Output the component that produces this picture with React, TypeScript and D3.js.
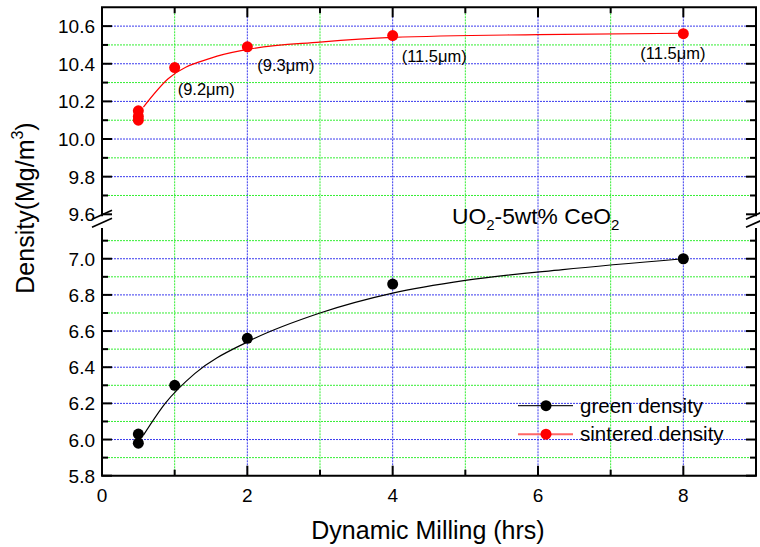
import { useEffect, useRef } from 'react';
import * as d3 from 'd3';

// measured points
const greenHrs = [0.5, 0.5, 1, 2, 4, 8];
const greenDensity = [6.03, 5.98, 6.3, 6.56, 6.86, 7.0];
const sinteredHrs = [0.5, 0.5, 0.5, 1, 2, 4, 8];
const sinteredDensity = [10.15, 10.12, 10.1, 10.38, 10.49, 10.55, 10.56];

// fitted curves
const greenFitHrs = [0.57, 0.87, 1.28, 2, 3, 4, 5, 6.34, 8];
const greenFit = [6.024, 6.2, 6.366, 6.54, 6.7, 6.81, 6.88, 6.94, 7.0];
const sinteredFitHrs = [0.57, 0.91, 1.5, 2, 3, 4, 6, 8];
const sinteredFit = [10.17, 10.32, 10.43, 10.476, 10.515, 10.54, 10.555, 10.562];

// grain size labels
const grainHrs = [1, 2, 4, 8];
const grainLabels = ['(9.2\u03bcm)', '(9.3\u03bcm)', '(11.5\u03bcm)', '(11.5\u03bcm)'];
const grainDx = [3, 10, 9, -43];
const grainDy = [27, 24, 26, 25];

const xTicks = [0, 2, 4, 6, 8];
const legendNames = ['green density', 'sintered density'];

const FONT = '"Liberation Sans", Arial, sans-serif';

const App = () => {
    const svgRef = useRef<SVGSVGElement>(null);

    useEffect(() => {
        const svg = d3.select(svgRef.current);
        svg.selectAll('*').remove();

        const left = 102, right = 756, top = 7.3, bottom = 475.7;
        const breakTop = 214.3, breakBottom = 228;

        const x = d3.scaleLinear().domain([0, 9]).range([left, right]);
        const yLow = d3.scaleLinear().domain([5.8, 7.17]).range([bottom, breakBottom]);
        const yUp = d3.scaleLinear().domain([9.6, 10.7]).range([breakTop, top]);
        const y = (v: number) => (v > 8.5 ? yUp(v) : yLow(v));

        const blue = '#3a3aee';
        const green = '#33ee33';

        // grid
        const grid = svg.append('g');
        d3.range(1, 9).forEach((t) => {
            grid.append('line').attr('x1', x(t)).attr('x2', x(t)).attr('y1', top).attr('y2', bottom)
                .attr('stroke', t % 2 === 0 ? blue : green).attr('stroke-width', 1).attr('stroke-dasharray', '2,1');
        });
        const lowTenths = d3.range(59, 72);
        const upTenths = d3.range(97, 107);
        [...lowTenths, ...upTenths].forEach((t) => {
            grid.append('line').attr('x1', left).attr('x2', right).attr('y1', y(t / 10)).attr('y2', y(t / 10))
                .attr('stroke', t % 2 === 0 ? blue : green).attr('stroke-width', 1).attr('stroke-dasharray', '2,1');
        });

        // frame
        const frame = svg.append('g').attr('stroke', 'black').attr('stroke-width', 2).attr('fill', 'none');
        frame.append('line').attr('x1', left - 1).attr('x2', right + 1).attr('y1', top).attr('y2', top);
        frame.append('line').attr('x1', left - 1).attr('x2', right + 1).attr('y1', bottom).attr('y2', bottom);
        [left, right].forEach((ax) => {
            frame.append('line').attr('x1', ax).attr('x2', ax).attr('y1', top).attr('y2', breakTop + 2);
            frame.append('line').attr('x1', ax).attr('x2', ax).attr('y1', breakBottom).attr('y2', bottom);
            frame.append('line').attr('x1', ax - 10).attr('x2', ax + 10).attr('y1', breakTop + 5).attr('y2', breakTop - 4).attr('stroke-width', 1.6);
            frame.append('line').attr('x1', ax - 10).attr('x2', ax + 10).attr('y1', breakTop + 13).attr('y2', breakTop + 4).attr('stroke-width', 1.6);
        });

        // ticks
        const ticks = svg.append('g').attr('stroke', 'black').attr('stroke-width', 2);
        d3.range(0, 10).forEach((t) => {
            const len = t % 2 === 0 ? 10 : 6;
            ticks.append('line').attr('x1', x(t)).attr('x2', x(t)).attr('y1', bottom).attr('y2', bottom - len);
            ticks.append('line').attr('x1', x(t)).attr('x2', x(t)).attr('y1', top).attr('y2', top + len);
        });
        [...d3.range(58, 72), ...d3.range(96, 107)].forEach((t) => {
            const len = t % 2 === 0 ? 10 : 6;
            const yy = y(t / 10);
            ticks.append('line').attr('x1', left).attr('x2', left + len).attr('y1', yy).attr('y2', yy);
            ticks.append('line').attr('x1', right).attr('x2', right - len).attr('y1', yy).attr('y2', yy);
        });

        // tick labels
        const labels = svg.append('g').attr('font-family', FONT).attr('font-size', 19).attr('fill', 'black');
        xTicks.forEach((t) => {
            labels.append('text').attr('x', x(t)).attr('y', bottom + 26).attr('text-anchor', 'middle').text(t);
        });
        [...d3.range(58, 72, 2), ...d3.range(96, 107, 2)].forEach((t) => {
            labels.append('text').attr('x', left - 7).attr('y', y(t / 10) + 7).attr('text-anchor', 'end')
                .text(d3.format('.1f')(t / 10));
        });

        // titles
        svg.append('text').attr('x', (left + right) / 2 - 1).attr('y', 539).attr('text-anchor', 'middle')
            .attr('font-family', FONT).attr('font-size', 25).text('Dynamic Milling (hrs)');
        const yt = svg.append('text').attr('transform', 'translate(34, 208) rotate(-90)').attr('text-anchor', 'middle')
            .attr('font-family', FONT).attr('font-size', 25);
        yt.append('tspan').text('Density(Mg/m');
        yt.append('tspan').attr('font-size', 16).attr('dy', -11).text('3');
        yt.append('tspan').attr('dy', 11).text(')');

        // fitted curves
        const line = d3.line<[number, number]>().x((d) => x(d[0])).y((d) => y(d[1])).curve(d3.curveMonotoneX);
        svg.append('path').attr('d', line(d3.zip(greenFitHrs, greenFit) as [number, number][]))
            .attr('fill', 'none').attr('stroke', 'black').attr('stroke-width', 1.2);
        svg.append('path').attr('d', line(d3.zip(sinteredFitHrs, sinteredFit) as [number, number][]))
            .attr('fill', 'none').attr('stroke', 'red').attr('stroke-width', 1.2);

        // points
        svg.append('g').selectAll('circle').data(d3.zip(greenHrs, greenDensity)).enter().append('circle')
            .attr('cx', (d) => x(d[0])).attr('cy', (d) => y(d[1])).attr('r', 5.5).attr('fill', 'black');
        svg.append('g').selectAll('circle').data(d3.zip(sinteredHrs, sinteredDensity)).enter().append('circle')
            .attr('cx', (d) => x(d[0])).attr('cy', (d) => y(d[1])).attr('r', 5.5).attr('fill', 'red');

        // grain size annotations
        grainHrs.forEach((h, i) => {
            const v = sinteredDensity[sinteredHrs.indexOf(h)];
            svg.append('text').attr('x', x(h) + grainDx[i]).attr('y', y(v) + grainDy[i])
                .attr('font-family', FONT).attr('font-size', 16.5).text(grainLabels[i]);
        });

        // composition label
        const comp = svg.append('text').attr('x', 452).attr('y', 224).attr('font-family', FONT).attr('font-size', 22.8);
        comp.append('tspan').text('UO');
        comp.append('tspan').attr('font-size', 15).attr('dy', 6).text('2');
        comp.append('tspan').attr('dy', -6).text('-5wt% CeO');
        comp.append('tspan').attr('font-size', 15).attr('dy', 6).text('2');

        // legend
        const legendColors = ['black', 'red'];
        const legendLines = ['#222', '#ff6666'];
        legendNames.forEach((name, i) => {
            const ly = 405.7 + i * 28.5;
            const g = svg.append('g');
            g.append('line').attr('x1', 518).attr('x2', 573).attr('y1', ly).attr('y2', ly)
                .attr('stroke', legendLines[i]).attr('stroke-width', i === 0 ? 1.2 : 2);
            g.append('circle').attr('cx', 546).attr('cy', ly).attr('r', 5.5).attr('fill', legendColors[i]);
            g.append('text').attr('x', 580).attr('y', ly + 7).attr('font-family', FONT).attr('font-size', 20.5).text(name);
        });
    }, []);

    return <svg ref={svgRef} width={760} height={547} style={{ position: 'absolute', left: 0, top: 0, background: 'white' }}></svg>;
};

export default App;
